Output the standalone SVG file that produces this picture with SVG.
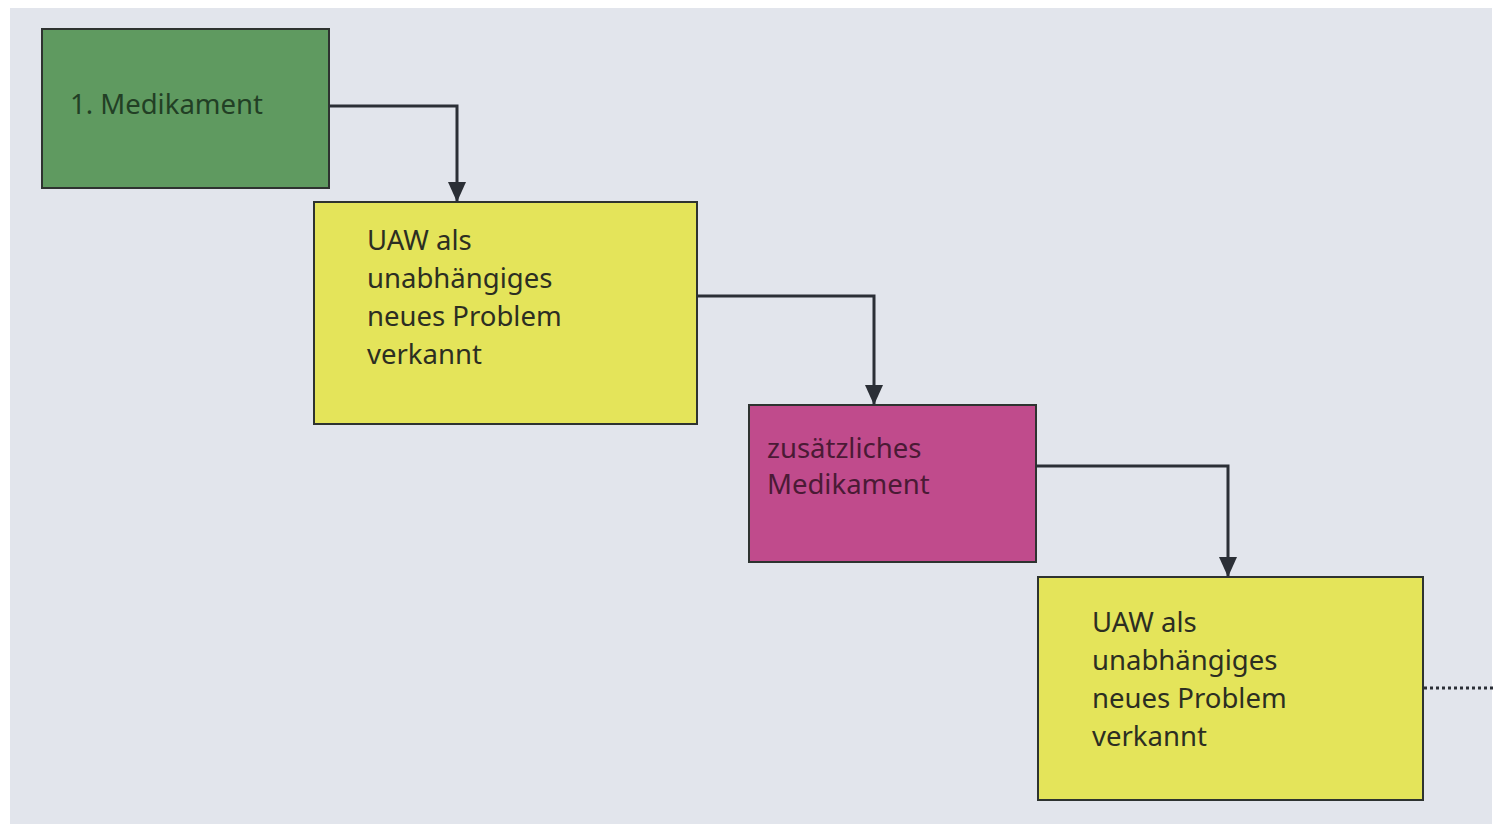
<svg xmlns="http://www.w3.org/2000/svg" width="1499" height="829" viewBox="0 0 1499 829">
<defs>
<style>
.box{stroke:#2e3330;stroke-width:2}
.t{font-family:"Noto Sans","Open Sans",sans-serif;font-size:27.5px}
.con{fill:none;stroke:#2b2f36;stroke-width:3}
</style>
<marker id="arr" viewBox="0 0 20 18" refX="20" refY="9" markerWidth="20" markerHeight="18" markerUnits="userSpaceOnUse" orient="auto">
<path d="M0,0 L20,9 L0,18 z" fill="#2b2f36"/>
</marker>
</defs>
<rect x="0" y="0" width="1499" height="829" fill="#ffffff"/>
<rect x="10" y="8" width="1482" height="816" fill="#e2e5ec"/>
<g id="n1">
<rect class="box" x="42" y="29" width="287" height="159" fill="#5f9a60"/>
<text class="t" x="70" y="114" fill="#223f25">1. Medikament</text>
</g>
<g id="n2">
<rect class="box" x="314" y="202" width="383" height="222" fill="#e4e45a"/>
<text class="t" fill="#2c2e22"><tspan x="367" y="250">UAW als</tspan><tspan x="367" y="288">unabhängiges</tspan><tspan x="367" y="326">neues Problem</tspan><tspan x="367" y="364">verkannt</tspan></text>
</g>
<g id="n3">
<rect class="box" x="749" y="405" width="287" height="157" fill="#c04b8c"/>
<text class="t" fill="#4a1a35"><tspan x="767" y="458">zusätzliches</tspan><tspan x="767" y="494">Medikament</tspan></text>
</g>
<g id="n4">
<rect class="box" x="1038" y="577" width="385" height="223" fill="#e4e45a"/>
<text class="t" fill="#2c2e22"><tspan x="1092" y="632">UAW als</tspan><tspan x="1092" y="670">unabhängiges</tspan><tspan x="1092" y="708">neues Problem</tspan><tspan x="1092" y="746">verkannt</tspan></text>
</g>
<g id="connectors">
<path class="con" d="M329,106 H457 V202" marker-end="url(#arr)"/>
<path class="con" d="M697,296 H874 V405" marker-end="url(#arr)"/>
<path class="con" d="M1036,466 H1228 V577" marker-end="url(#arr)"/>
<path d="M1424,688 H1496" fill="none" stroke="#2b2f36" stroke-width="3" stroke-dasharray="3,3"/>
</g>
</svg>
